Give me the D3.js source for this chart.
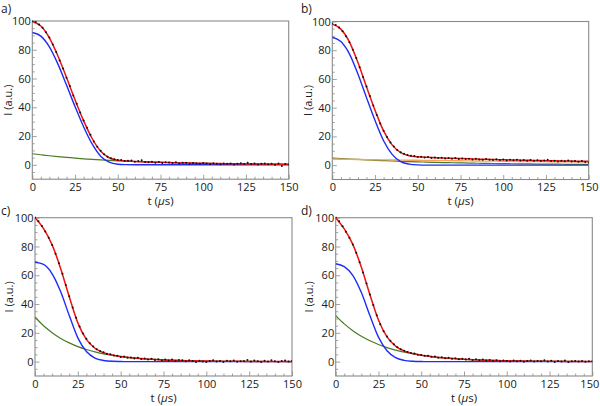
<!DOCTYPE html>
<html><head><meta charset="utf-8">
<script src="https://cdn.jsdelivr.net/npm/d3@7/dist/d3.min.js"></script>
<style>
body{margin:0;background:#fff}
text{font-family:"Open Sans","Noto Sans",sans-serif;fill:#1a1a1a}
</style></head>
<body><svg id="chart" width="600" height="406"></svg>
<script>
// ---- time grids (µs) ----
const tFit = [0,5,10,15,20,25,30,35,40,45,50,55,60,65,70,75,80,85,90,95,100,105,110,115,120,125,130,135,140,145,150];
const tData = [0,2,4,6,8,10,12,14,16,18,20,22,24,26,28,30,32,34,36,38,40,42,44,46,48,50,52,54,56,58,60,62,64,66,68,70,72,74,76,78,80,82,84,86,88,90,92,94,96,98,100,102,104,106,108,110,112,114,116,118,120,122,124,126,128,130,132,134,136,138,140,142,144,146,148,150];

// ---- axis ticks ----
const xTicks = [0,25,50,75,100,125,150];
const xMinor = [5,10,15,20,30,35,40,45,55,60,65,70,80,85,90,95,105,110,115,120,130,135,140,145];
const yTicks = [0,20,40,60,80,100];
const yMinor = [-5,5,10,15,25,30,35,45,50,55,65,70,75,85,90,95];

// ---- panel a ----
const redA   = [99.7,96.5,88.3,75.7,60.7,45.2,30.7,18.3,9.5,4.9,3.2,2.7,2.3,2.1,1.9,1.7,1.55,1.4,1.25,1.15,1.05,0.95,0.85,0.77,0.7,0.63,0.57,0.52,0.47,0.42,0.38];
const blueA  = [92,89.5,82,70,55.5,40.5,26.5,14.5,6,1.8,0.4,0.1,0,0,0,0,0,0,0,0,0,0,0,0,0,0,0,0,0,0,0];
const greenA = [7.7,7.0,6.3,5.7,5.2,4.7,4.2,3.8,3.5,3.1,2.8,2.6,2.3,2.1,1.9,1.7,1.55,1.4,1.25,1.15,1.05,0.95,0.85,0.77,0.7,0.63,0.57,0.52,0.47,0.42,0.38];
const dataA  = [99.9,99.3,97.6,95.3,92.2,88.5,83.6,78.4,72.5,66.9,60.5,54.8,48.2,42.5,36.4,30.9,25.7,20.9,16.2,12.6,9.8,7.4,5.6,4.6,3.9,3.3,3.4,2.6,2.9,3.0,2.1,2.7,3.1,2.0,1.8,2.2,1.5,1.9,1.3,1.8,1.6,1.2,1.7,1.0,1.5,1.4,0.8,1.3,1.0,0.7,1.3,0.9,0.6,1.1,0.8,0.4,1.0,0.7,0.9,0.3,0.8,1.1,0.5,1.4,0.6,0.9,0.2,0.8,1.0,0.4,0.7,0.1,0.9,-0.8,0.5,0.3];

// ---- panel b ----
const redB    = [98.2,94.7,85.8,71.4,54.5,38.2,23.8,14.1,8.7,6.6,5.8,5.41,5.18,4.96,4.75,4.56,4.38,4.21,4.04,3.89,3.75,3.61,3.48,3.35,3.24,3.12,3.02,2.92,2.82,2.73,2.64];
const blueB   = [89,86,77.5,63.5,47,31,17,7.5,2.5,0.7,0.15,0,0,0,0,0,0,0,0,0,0,0,0,0,0,0,0,0,0,0,0];
const greenB  = [5,4.62,4.28,3.96,3.66,3.38,3.13,2.89,2.68,2.48,2.29,2.12,1.96,1.81,1.67,1.55,1.43,1.33,1.22,1.13,1.05,0.97,0.9,0.83,0.77,0.71,0.66,0.61,0.56,0.52,0.48];
const orangeB = [4.2,4.11,4.02,3.93,3.84,3.76,3.68,3.6,3.52,3.44,3.37,3.29,3.22,3.15,3.08,3.01,2.95,2.88,2.82,2.76,2.7,2.64,2.58,2.52,2.47,2.41,2.36,2.31,2.26,2.21,2.16];
const dataB   = [98.4,97.6,95.8,93.2,89.8,85.6,80.4,74.6,68.1,61.4,54.8,48.1,41.5,34.9,29.0,23.9,19.6,15.8,13.0,10.6,8.9,7.9,7.0,6.5,6.3,5.6,5.9,5.3,5.6,5.0,5.4,4.9,5.2,4.6,5.0,4.5,4.9,4.3,4.6,4.2,4.5,3.9,4.4,4.0,3.7,4.2,3.8,3.5,4.1,3.6,3.9,3.3,3.7,3.4,3.8,3.2,3.5,3.1,3.6,3.0,3.4,2.8,3.3,3.7,2.9,3.1,2.6,3.0,2.7,3.2,2.5,2.9,2.4,2.8,2.1,1.9];

// ---- panel c ----
const redC   = [100,92.4,81.1,64.6,45,26.9,15.4,9.3,6.2,4.6,3.55,2.8,2.3,1.8,1.5,1.2,0.96,0.77,0.62,0.5,0.4,0.32,0.26,0.21,0.17,0.14,0.11,0.09,0.07,0.06,0.05];
const blueC  = [69,67.5,61,48.5,32,16.5,7,2.5,0.8,0.2,0.05,0,0,0,0,0,0,0,0,0,0,0,0,0,0,0,0,0,0,0,0];
const greenC = [31,24.9,20.1,16.1,13.0,10.4,8.4,6.8,5.4,4.4,3.5,2.8,2.3,1.8,1.5,1.2,0.96,0.77,0.62,0.5,0.4,0.32,0.26,0.21,0.17,0.14,0.11,0.09,0.07,0.06,0.05];
const dataC  = [100.2,97.6,94.3,90.4,86.0,81.0,75.0,68.4,61.0,53.2,45.4,37.6,30.5,24.4,19.6,15.8,12.8,10.5,8.6,7.4,6.5,5.5,5.1,4.2,4.0,3.2,3.6,2.6,2.9,2.2,2.6,1.8,2.2,1.4,1.9,1.2,1.7,0.9,1.5,0.7,1.4,0.5,1.1,0.9,0.3,1.0,0.4,-0.2,0.6,0.1,-0.3,0.5,0.9,0.1,0.4,-0.2,0.6,0.2,0.8,-0.1,0.3,0.5,1.1,0.0,0.7,0.2,-0.3,0.6,0.1,0.9,0.3,-0.2,0.5,0.8,0.0,0.4];

// ---- panel d ----
const redD   = [100,92.2,81.5,65.6,46.5,28.9,17.2,10.8,7.4,5.65,4.45,3.6,2.9,2.4,2.0,1.6,1.3,1.1,0.89,0.73,0.6,0.49,0.4,0.33,0.27,0.22,0.18,0.15,0.12,0.1,0.08];
const blueD  = [68,66,60,48,32,17,7.5,2.8,0.9,0.25,0.05,0,0,0,0,0,0,0,0,0,0,0,0,0,0,0,0,0,0,0,0];
const greenD = [32,26.2,21.5,17.6,14.5,11.9,9.7,8.0,6.5,5.4,4.4,3.6,2.9,2.4,2.0,1.6,1.3,1.1,0.89,0.73,0.6,0.49,0.4,0.33,0.27,0.22,0.18,0.15,0.12,0.1,0.08];
const dataD  = [100.1,97.5,94.1,90.3,86.1,81.3,75.6,69.1,62.0,54.3,46.6,39.3,32.2,26.0,21.1,17.4,14.5,12.0,10.0,8.6,7.6,6.7,6.0,5.6,4.8,4.6,4.0,4.1,3.3,3.5,2.7,3.0,2.3,2.6,1.9,2.3,1.6,1.9,1.4,1.9,1.1,1.6,0.9,1.4,0.7,1.2,0.5,0.9,0.3,0.8,0.5,0.1,0.7,0.2,0.6,-0.1,0.4,0.7,0.0,0.5,0.2,0.9,0.1,0.6,-0.2,0.4,0.1,0.7,-0.3,0.3,0.5,0.0,0.4,-0.1,0.3,0.2];

const colors = {red:"#f01010", blue:"#1f2cf5", green:"#4d7a24", orange:"#f2a35c", data:"#111", frame:"#8a8a8a"};

const panels = [
  {tag:"a)", box:[32.3,288.7,21,179.2], lx:1,   ly:13,  ylx:7,   red:redA, blue:blueA, green:greenA, orange:null, data:dataA},
  {tag:"b)", box:[332.3,588.7,21.5,179.5], lx:301, ly:13, ylx:307, red:redB, blue:blueB, green:greenB, orange:orangeB, data:dataB},
  {tag:"c)", box:[35,292,217.7,376], lx:1, ly:215, ylx:8, red:redC, blue:blueC, green:greenC, orange:null, data:dataC},
  {tag:"d)", box:[335.7,592.3,217.7,376], lx:301, ly:215, ylx:308, red:redD, blue:blueD, green:greenD, orange:null, data:dataD}
];

const svg = d3.select("#chart");
const FS = 11;

panels.forEach(p => {
  const [L,R,T,B] = p.box;
  const x = d3.scaleLinear().domain([0,150]).range([L,R]);
  const y = d3.scaleLinear().domain([-10,100]).range([B,T]);
  const g = svg.append("g");

  const clipId = "clip" + p.tag[0];
  svg.append("clipPath").attr("id",clipId).append("rect")
    .attr("x",L).attr("y",T-2).attr("width",R-L).attr("height",B-T+2);

  // axes (ticks inside the frame)
  const xa = g.append("g").attr("transform",`translate(0,${B})`)
    .call(d3.axisBottom(x).tickValues(xTicks).tickSize(-4.5).tickPadding(4).tickFormat(d3.format("d")));
  const xm = g.append("g").attr("transform",`translate(0,${B})`)
    .call(d3.axisBottom(x).tickValues(xMinor).tickSize(-2.5).tickFormat(""));
  const ya = g.append("g").attr("transform",`translate(${L},0)`)
    .call(d3.axisLeft(y).tickValues(yTicks).tickSize(-4.5).tickPadding(1.5).tickFormat(d3.format("d")));
  const ym = g.append("g").attr("transform",`translate(${L},0)`)
    .call(d3.axisLeft(y).tickValues(yMinor).tickSize(-2.5).tickFormat(""));
  [xa,xm,ya,ym].forEach(a=>{
    a.select(".domain").remove();
    a.selectAll(".tick line").attr("stroke",colors.frame).attr("stroke-width",0.8);
    a.selectAll(".tick text").attr("font-size",FS).attr("fill","#1a1a1a");
  });
  // keep the last x label inside the page
  xa.selectAll(".tick text").filter(d => d === 150 && R > 590).attr("dx", -3);

  // frame
  g.append("rect").attr("x",L).attr("y",T).attr("width",R-L).attr("height",B-T)
    .attr("fill","none").attr("stroke",colors.frame).attr("stroke-width",1.1);

  const plot = g.append("g").attr("clip-path",`url(#${clipId})`);
  const line = d3.line().x((d,i)=>x(tFit[i])).y(d=>y(d)).curve(d3.curveMonotoneX);

  plot.append("path").datum(p.green).attr("d",line).attr("fill","none")
    .attr("stroke",colors.green).attr("stroke-width",1.2);
  if (p.orange) plot.append("path").datum(p.orange).attr("d",line).attr("fill","none")
    .attr("stroke",colors.orange).attr("stroke-width",1.4);
  plot.append("path").datum(p.blue).attr("d",line).attr("fill","none")
    .attr("stroke",colors.blue).attr("stroke-width",1.4);
  plot.append("path").datum(p.red).attr("d",line).attr("fill","none")
    .attr("stroke",colors.red).attr("stroke-width",1.5);

  plot.selectAll("circle.pt").data(p.data).join("circle").attr("class","pt")
    .attr("cx",(d,i)=>x(tData[i])).attr("cy",d=>y(d)).attr("r",1.0).attr("fill",colors.data);

  // labels
  svg.append("text").attr("x",p.lx).attr("y",p.ly).attr("font-size",12).text(p.tag);
  const xl = svg.append("text").attr("x",(L+R)/2).attr("y",B+25.5)
    .attr("text-anchor","middle").attr("font-size",11.5);
  xl.append("tspan").text("t (");
  xl.append("tspan").attr("font-style","italic").text("μ");
  xl.append("tspan").text("s)");
  svg.append("text").attr("transform",`translate(${p.ylx},${(T+B)/2}) rotate(-90)`)
    .attr("text-anchor","middle").attr("dominant-baseline","central")
    .attr("font-size",FS).text("I (a.u.)");
});
</script></body></html>
